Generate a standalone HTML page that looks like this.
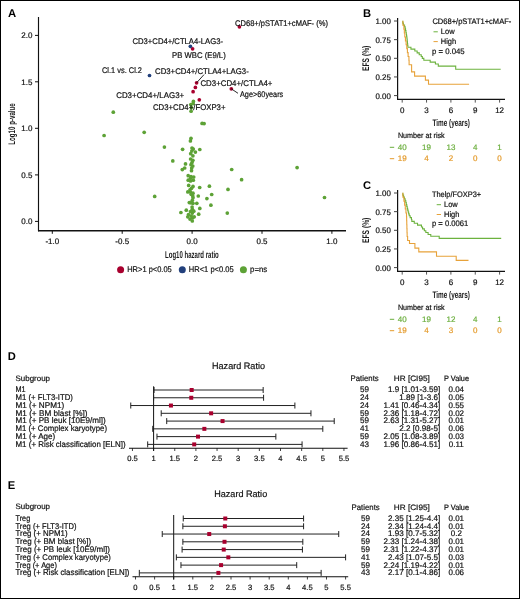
<!DOCTYPE html>
<html><head><meta charset="utf-8"><style>
html,body{margin:0;padding:0;background:#fff;}
svg{display:block;font-family:"Liberation Sans", sans-serif;will-change:transform;}
</style></head><body>
<svg width="520" height="599" viewBox="0 0 520 599" text-rendering="geometricPrecision">
<rect x="0" y="0" width="520" height="599" fill="#fff"/>
<text x="8.0" y="16.7" font-size="11.3" text-anchor="start" fill="#000" font-weight="bold" transform="matrix(1 0 0.0018 1 -0.0301 0)">A</text>
<line x1="38.5" y1="17" x2="38.5" y2="231.3" stroke="#111" stroke-width="1.15"/>
<line x1="38" y1="230.8" x2="346" y2="230.8" stroke="#111" stroke-width="1.5"/>
<line x1="35" y1="35.4" x2="38.5" y2="35.4" stroke="#111" stroke-width="1"/>
<text x="32.4" y="38.2" font-size="8.0" text-anchor="end" fill="#111" transform="matrix(1 0 0.0018 1 -0.0688 0)" stroke="#111" stroke-width="0.2">2.0</text>
<line x1="35" y1="81.8" x2="38.5" y2="81.8" stroke="#111" stroke-width="1"/>
<text x="32.4" y="84.6" font-size="8.0" text-anchor="end" fill="#111" transform="matrix(1 0 0.0018 1 -0.1523 0)" stroke="#111" stroke-width="0.2">1.5</text>
<line x1="35" y1="128.3" x2="38.5" y2="128.3" stroke="#111" stroke-width="1"/>
<text x="32.4" y="131.1" font-size="8.0" text-anchor="end" fill="#111" transform="matrix(1 0 0.0018 1 -0.2360 0)" stroke="#111" stroke-width="0.2">1.0</text>
<line x1="35" y1="174.9" x2="38.5" y2="174.9" stroke="#111" stroke-width="1"/>
<text x="32.4" y="177.7" font-size="8.0" text-anchor="end" fill="#111" transform="matrix(1 0 0.0018 1 -0.3199 0)" stroke="#111" stroke-width="0.2">0.5</text>
<line x1="35" y1="221.4" x2="38.5" y2="221.4" stroke="#111" stroke-width="1"/>
<text x="32.4" y="224.2" font-size="8.0" text-anchor="end" fill="#111" transform="matrix(1 0 0.0018 1 -0.4036 0)" stroke="#111" stroke-width="0.2">0.0</text>
<line x1="52.3" y1="230.8" x2="52.3" y2="233.8" stroke="#111" stroke-width="1"/>
<text x="52.3" y="244.1" font-size="8.0" text-anchor="middle" fill="#111" transform="matrix(1 0 0.0018 1 -0.4394 0)" stroke="#111" stroke-width="0.2">-1.0</text>
<line x1="122.2" y1="230.8" x2="122.2" y2="233.8" stroke="#111" stroke-width="1"/>
<text x="122.2" y="244.1" font-size="8.0" text-anchor="middle" fill="#111" transform="matrix(1 0 0.0018 1 -0.4394 0)" stroke="#111" stroke-width="0.2">-0.5</text>
<line x1="192.1" y1="230.8" x2="192.1" y2="233.8" stroke="#111" stroke-width="1"/>
<text x="192.1" y="244.1" font-size="8.0" text-anchor="middle" fill="#111" transform="matrix(1 0 0.0018 1 -0.4394 0)" stroke="#111" stroke-width="0.2">0.0</text>
<line x1="262.0" y1="230.8" x2="262.0" y2="233.8" stroke="#111" stroke-width="1"/>
<text x="262.0" y="244.1" font-size="8.0" text-anchor="middle" fill="#111" transform="matrix(1 0 0.0018 1 -0.4394 0)" stroke="#111" stroke-width="0.2">0.5</text>
<line x1="331.9" y1="230.8" x2="331.9" y2="233.8" stroke="#111" stroke-width="1"/>
<text x="331.9" y="244.1" font-size="8.0" text-anchor="middle" fill="#111" transform="matrix(1 0 0.0018 1 -0.4394 0)" stroke="#111" stroke-width="0.2">1.0</text>
<text x="191.9" y="257.5" font-size="10.0" text-anchor="middle" fill="#1a1a1a" font-weight="bold" textLength="53.75" lengthAdjust="spacingAndGlyphs" transform="matrix(1 0 0.0018 1 -0.4635 0)">Log10 hazard ratio</text>
<g transform="translate(14.8,124) rotate(-90)">
<text x="0" y="0" font-size="9.6" text-anchor="middle" fill="#1a1a1a" font-weight="bold" textLength="41.4" lengthAdjust="spacingAndGlyphs" transform="matrix(1 0 0.0018 1 -0.0000 0)">Log10 p-value</text>
</g>
<circle cx="113.3" cy="112.2" r="1.85" fill="#5da236"/>
<circle cx="104.1" cy="135.5" r="1.85" fill="#5da236"/>
<circle cx="144.2" cy="132.3" r="1.85" fill="#5da236"/>
<circle cx="164.4" cy="147.1" r="1.85" fill="#5da236"/>
<circle cx="172.8" cy="160.9" r="1.85" fill="#5da236"/>
<circle cx="182.6" cy="149.3" r="1.85" fill="#5da236"/>
<circle cx="154.7" cy="196.4" r="1.85" fill="#5da236"/>
<circle cx="180.9" cy="212.5" r="1.85" fill="#5da236"/>
<circle cx="186.3" cy="210.2" r="1.85" fill="#5da236"/>
<circle cx="185.5" cy="163.9" r="1.85" fill="#5da236"/>
<circle cx="184.7" cy="168" r="1.85" fill="#5da236"/>
<circle cx="182.3" cy="169.6" r="1.85" fill="#5da236"/>
<circle cx="202.1" cy="123.4" r="1.85" fill="#5da236"/>
<circle cx="204.1" cy="123.6" r="1.85" fill="#5da236"/>
<circle cx="199.8" cy="149.5" r="1.85" fill="#5da236"/>
<circle cx="195.4" cy="152.1" r="1.85" fill="#5da236"/>
<circle cx="199.7" cy="187.5" r="1.85" fill="#5da236"/>
<circle cx="209.4" cy="186.2" r="1.85" fill="#5da236"/>
<circle cx="228" cy="189.4" r="1.85" fill="#5da236"/>
<circle cx="231.7" cy="169.5" r="1.85" fill="#5da236"/>
<circle cx="297.1" cy="167.6" r="1.85" fill="#5da236"/>
<circle cx="241.6" cy="179.7" r="1.85" fill="#5da236"/>
<circle cx="211.7" cy="194.5" r="1.85" fill="#5da236"/>
<circle cx="206.9" cy="198.6" r="1.85" fill="#5da236"/>
<circle cx="198.3" cy="196" r="1.85" fill="#5da236"/>
<circle cx="196.8" cy="203.3" r="1.85" fill="#5da236"/>
<circle cx="210.9" cy="205.2" r="1.85" fill="#5da236"/>
<circle cx="199.8" cy="208.4" r="1.85" fill="#5da236"/>
<circle cx="198.7" cy="214.2" r="1.85" fill="#5da236"/>
<circle cx="227.3" cy="213.1" r="1.85" fill="#5da236"/>
<circle cx="324.5" cy="197.5" r="1.85" fill="#5da236"/>
<circle cx="193.4" cy="101.4" r="1.85" fill="#5da236"/>
<circle cx="193.1" cy="103.6" r="1.85" fill="#5da236"/>
<circle cx="190.8" cy="104.5" r="1.85" fill="#5da236"/>
<circle cx="191.4" cy="107.6" r="1.85" fill="#5da236"/>
<circle cx="191.1" cy="111.2" r="1.85" fill="#5da236"/>
<circle cx="191" cy="138.3" r="1.85" fill="#5da236"/>
<circle cx="190.4" cy="140.9" r="1.85" fill="#5da236"/>
<circle cx="192" cy="148" r="1.85" fill="#5da236"/>
<circle cx="193.3" cy="149.1" r="1.85" fill="#5da236"/>
<circle cx="190.7" cy="153.7" r="1.85" fill="#5da236"/>
<circle cx="192.9" cy="155.8" r="1.85" fill="#5da236"/>
<circle cx="190.6" cy="159" r="1.85" fill="#5da236"/>
<circle cx="192.9" cy="160.3" r="1.85" fill="#5da236"/>
<circle cx="191" cy="164.7" r="1.85" fill="#5da236"/>
<circle cx="192.8" cy="166" r="1.85" fill="#5da236"/>
<circle cx="191.7" cy="168" r="1.85" fill="#5da236"/>
<circle cx="191.5" cy="170.7" r="1.85" fill="#5da236"/>
<circle cx="188.2" cy="175.7" r="1.85" fill="#5da236"/>
<circle cx="193.7" cy="177" r="1.85" fill="#5da236"/>
<circle cx="190.6" cy="178.2" r="1.85" fill="#5da236"/>
<circle cx="188.2" cy="180.2" r="1.85" fill="#5da236"/>
<circle cx="193.3" cy="180.2" r="1.85" fill="#5da236"/>
<circle cx="188.7" cy="185.4" r="1.85" fill="#5da236"/>
<circle cx="193" cy="186.4" r="1.85" fill="#5da236"/>
<circle cx="191.5" cy="188.3" r="1.85" fill="#5da236"/>
<circle cx="190" cy="189.8" r="1.85" fill="#5da236"/>
<circle cx="187.8" cy="191.9" r="1.85" fill="#5da236"/>
<circle cx="190.4" cy="192" r="1.85" fill="#5da236"/>
<circle cx="193" cy="193.2" r="1.85" fill="#5da236"/>
<circle cx="191.2" cy="194.3" r="1.85" fill="#5da236"/>
<circle cx="192.7" cy="195.8" r="1.85" fill="#5da236"/>
<circle cx="193" cy="197.7" r="1.85" fill="#5da236"/>
<circle cx="192.3" cy="200.3" r="1.85" fill="#5da236"/>
<circle cx="189.3" cy="202.6" r="1.85" fill="#5da236"/>
<circle cx="193" cy="203.3" r="1.85" fill="#5da236"/>
<circle cx="192.1" cy="207.1" r="1.85" fill="#5da236"/>
<circle cx="192.3" cy="209.3" r="1.85" fill="#5da236"/>
<circle cx="193.8" cy="211.2" r="1.85" fill="#5da236"/>
<circle cx="192.3" cy="213.1" r="1.85" fill="#5da236"/>
<circle cx="191.8" cy="151" r="1.85" fill="#5da236"/>
<circle cx="192" cy="162.5" r="1.85" fill="#5da236"/>
<circle cx="191" cy="202.8" r="1.85" fill="#5da236"/>
<circle cx="190.5" cy="211.5" r="1.85" fill="#5da236"/>
<circle cx="192.5" cy="218" r="1.85" fill="#5da236"/>
<circle cx="191" cy="176.5" r="1.85" fill="#5da236"/>
<circle cx="190.5" cy="181" r="1.85" fill="#5da236"/>
<circle cx="188.5" cy="214.6" r="1.85" fill="#5da236"/>
<circle cx="187.8" cy="216.8" r="1.85" fill="#5da236"/>
<circle cx="191.2" cy="216.1" r="1.85" fill="#5da236"/>
<circle cx="194.2" cy="216.8" r="1.85" fill="#5da236"/>
<circle cx="190" cy="219.1" r="1.85" fill="#5da236"/>
<circle cx="192.3" cy="221" r="1.85" fill="#5da236"/>
<circle cx="239.4" cy="26.8" r="1.85" fill="#a8002e"/>
<circle cx="192.6" cy="48.8" r="1.85" fill="#a8002e"/>
<circle cx="196.6" cy="82.8" r="1.85" fill="#a8002e"/>
<circle cx="195.4" cy="87.4" r="1.85" fill="#a8002e"/>
<circle cx="193.1" cy="91.7" r="1.85" fill="#a8002e"/>
<circle cx="199.3" cy="99.8" r="1.85" fill="#a8002e"/>
<circle cx="231.3" cy="88.8" r="1.85" fill="#a8002e"/>
<circle cx="190.4" cy="46.3" r="1.85" fill="#22407c"/>
<circle cx="149.5" cy="75.5" r="1.85" fill="#22407c"/>
<text x="235" y="25.5" font-size="8.2" text-anchor="start" fill="#111" textLength="93" lengthAdjust="spacingAndGlyphs" transform="matrix(1 0 0.0018 1 -0.0459 0)" stroke="#111" stroke-width="0.2">CD68+/pSTAT1+cMAF- (%)</text>
<text x="132.5" y="44.0" font-size="8.2" text-anchor="start" fill="#111" textLength="90.5" lengthAdjust="spacingAndGlyphs" transform="matrix(1 0 0.0018 1 -0.0792 0)" stroke="#111" stroke-width="0.2">CD3+CD4+/CTLA4-LAG3-</text>
<text x="172" y="58.0" font-size="8.2" text-anchor="start" fill="#111" textLength="53.75" lengthAdjust="spacingAndGlyphs" transform="matrix(1 0 0.0018 1 -0.1044 0)" stroke="#111" stroke-width="0.2">PB WBC (E9/L)</text>
<text x="102" y="72.6" font-size="8.2" text-anchor="start" fill="#111" textLength="40" lengthAdjust="spacingAndGlyphs" transform="matrix(1 0 0.0018 1 -0.1307 0)" stroke="#111" stroke-width="0.2">Cl.1 vs. Cl.2</text>
<text x="155" y="73.5" font-size="8.2" text-anchor="start" fill="#111" textLength="93.75" lengthAdjust="spacingAndGlyphs" transform="matrix(1 0 0.0018 1 -0.1323 0)" stroke="#111" stroke-width="0.2">CD3+CD4+/CTLA4+LAG3-</text>
<text x="200.4" y="85.8" font-size="8.2" text-anchor="start" fill="#111" textLength="72" lengthAdjust="spacingAndGlyphs" transform="matrix(1 0 0.0018 1 -0.1544 0)" stroke="#111" stroke-width="0.2">CD3+CD4+/CTLA4+</text>
<text x="240" y="97.0" font-size="8.2" text-anchor="start" fill="#111" textLength="43.25" lengthAdjust="spacingAndGlyphs" transform="matrix(1 0 0.0018 1 -0.1746 0)" stroke="#111" stroke-width="0.2">Age&gt;60years</text>
<text x="116.2" y="97.5" font-size="8.2" text-anchor="start" fill="#111" textLength="68" lengthAdjust="spacingAndGlyphs" transform="matrix(1 0 0.0018 1 -0.1755 0)" stroke="#111" stroke-width="0.2">CD3+CD4+/LAG3+</text>
<text x="153" y="109.9" font-size="8.2" text-anchor="start" fill="#111" textLength="72.5" lengthAdjust="spacingAndGlyphs" transform="matrix(1 0 0.0018 1 -0.1978 0)" stroke="#111" stroke-width="0.2">CD3+CD4+/FOXP3+</text>
<line x1="196.6" y1="82.8" x2="204" y2="74.6" stroke="#111" stroke-width="0.9"/>
<line x1="231.3" y1="88.8" x2="238" y2="93.3" stroke="#111" stroke-width="0.9"/>
<circle cx="120.6" cy="269.7" r="3.5" fill="#a8002e"/>
<text x="127.2" y="272.4" font-size="8.2" text-anchor="start" fill="#111" textLength="44.6" lengthAdjust="spacingAndGlyphs" transform="matrix(1 0 0.0018 1 -0.4903 0)" stroke="#111" stroke-width="0.2">HR&gt;1 p&lt;0.05</text>
<circle cx="182.3" cy="269.7" r="3.5" fill="#22407c"/>
<text x="188.8" y="272.4" font-size="8.2" text-anchor="start" fill="#111" textLength="44.9" lengthAdjust="spacingAndGlyphs" transform="matrix(1 0 0.0018 1 -0.4903 0)" stroke="#111" stroke-width="0.2">HR&lt;1 p&lt;0.05</text>
<circle cx="243.4" cy="269.7" r="3.5" fill="#5da236"/>
<text x="250" y="272.4" font-size="8.2" text-anchor="start" fill="#111" textLength="17.3" lengthAdjust="spacingAndGlyphs" transform="matrix(1 0 0.0018 1 -0.4903 0)" stroke="#111" stroke-width="0.2">p=ns</text>
<text x="363.0" y="17.2" font-size="11.2" text-anchor="start" fill="#000" font-weight="bold" transform="matrix(1 0 0.0018 1 -0.0310 0)">B</text>
<line x1="397.6" y1="18.1" x2="397.6" y2="99.8" stroke="#111" stroke-width="1.2"/>
<line x1="397.0" y1="99.3" x2="505" y2="99.3" stroke="#111" stroke-width="1.2"/>
<line x1="394.0" y1="21.0" x2="397.6" y2="21.0" stroke="#444" stroke-width="1.0"/>
<text x="390.8" y="23.9" font-size="8.0" text-anchor="end" fill="#111" textLength="15.4" lengthAdjust="spacingAndGlyphs" transform="matrix(1 0 0.0018 1 -0.0430 0)" stroke="#111" stroke-width="0.2">1.00</text>
<line x1="394.0" y1="39.65" x2="397.6" y2="39.65" stroke="#444" stroke-width="1.0"/>
<text x="390.8" y="42.55" font-size="8.0" text-anchor="end" fill="#111" textLength="15.4" lengthAdjust="spacingAndGlyphs" transform="matrix(1 0 0.0018 1 -0.0766 0)" stroke="#111" stroke-width="0.2">0.75</text>
<line x1="394.0" y1="58.3" x2="397.6" y2="58.3" stroke="#444" stroke-width="1.0"/>
<text x="390.8" y="61.2" font-size="8.0" text-anchor="end" fill="#111" textLength="15.4" lengthAdjust="spacingAndGlyphs" transform="matrix(1 0 0.0018 1 -0.1102 0)" stroke="#111" stroke-width="0.2">0.50</text>
<line x1="394.0" y1="76.94999999999999" x2="397.6" y2="76.94999999999999" stroke="#444" stroke-width="1.0"/>
<text x="390.8" y="79.85" font-size="8.0" text-anchor="end" fill="#111" textLength="15.4" lengthAdjust="spacingAndGlyphs" transform="matrix(1 0 0.0018 1 -0.1437 0)" stroke="#111" stroke-width="0.2">0.25</text>
<line x1="394.0" y1="95.6" x2="397.6" y2="95.6" stroke="#444" stroke-width="1.0"/>
<text x="390.8" y="98.5" font-size="8.0" text-anchor="end" fill="#111" textLength="15.4" lengthAdjust="spacingAndGlyphs" transform="matrix(1 0 0.0018 1 -0.1773 0)" stroke="#111" stroke-width="0.2">0.00</text>
<line x1="402.2" y1="99.9" x2="402.2" y2="102.6" stroke="#555" stroke-width="1.0"/>
<text x="402.2" y="112.5" font-size="8.0" text-anchor="middle" fill="#111" transform="matrix(1 0 0.0018 1 -0.2025 0)" stroke="#111" stroke-width="0.2">0</text>
<line x1="426.55" y1="99.9" x2="426.55" y2="102.6" stroke="#555" stroke-width="1.0"/>
<text x="426.55" y="112.5" font-size="8.0" text-anchor="middle" fill="#111" transform="matrix(1 0 0.0018 1 -0.2025 0)" stroke="#111" stroke-width="0.2">3</text>
<line x1="450.9" y1="99.9" x2="450.9" y2="102.6" stroke="#555" stroke-width="1.0"/>
<text x="450.9" y="112.5" font-size="8.0" text-anchor="middle" fill="#111" transform="matrix(1 0 0.0018 1 -0.2025 0)" stroke="#111" stroke-width="0.2">6</text>
<line x1="475.25" y1="99.9" x2="475.25" y2="102.6" stroke="#555" stroke-width="1.0"/>
<text x="475.25" y="112.5" font-size="8.0" text-anchor="middle" fill="#111" transform="matrix(1 0 0.0018 1 -0.2025 0)" stroke="#111" stroke-width="0.2">9</text>
<line x1="499.6" y1="99.9" x2="499.6" y2="102.6" stroke="#555" stroke-width="1.0"/>
<text x="499.6" y="112.5" font-size="8.0" text-anchor="middle" fill="#111" transform="matrix(1 0 0.0018 1 -0.2025 0)" stroke="#111" stroke-width="0.2">12</text>
<text x="451.2" y="125.7" font-size="9.6" text-anchor="middle" fill="#1a1a1a" font-weight="bold" textLength="37.6" lengthAdjust="spacingAndGlyphs" transform="matrix(1 0 0.0018 1 -0.2263 0)">Time (years)</text>
<g transform="translate(369.3,58.3) rotate(-90)">
<text x="0" y="0" font-size="9.6" text-anchor="middle" fill="#1a1a1a" font-weight="bold" textLength="25.3" lengthAdjust="spacingAndGlyphs" transform="matrix(1 0 0.0018 1 -0.0000 0)">EFS (%)</text>
</g>
<path d="M402.40,21.30 H402.71 V23.16 H403.43 V25.01 H404.56 V26.87 H405.17 V28.72 H405.55 V30.58 H405.94 V32.43 H406.26 V34.28 H406.55 V36.14 H406.84 V37.99 H407.08 V39.85 H407.26 V41.70 H407.45 V43.56 H407.63 V45.41 H407.88 V47.27 H410.94 V49.12 H414.83 V50.98 H417.14 V52.83 H419.22 V54.69 H421.23 V56.54 H422.31 V58.40 H423.83 V60.25 H430.18 V62.11 H435.41 V63.96 H438.3 V66.1 H455.7 V69.3 H500.7" fill="none" stroke="#6cb23e" stroke-width="1.1"/>
<path d="M402.40,21.30 H402.93 V25.21 H403.88 V29.12 H404.34 V33.03 H404.80 V36.94 H405.44 V40.85 H406.11 V44.76 H406.78 V48.67 H407.41 V52.58 H408.10 V56.49 H408.93 V60.40 H409.1 V64.7 H411.6 V71.9 H414.6 V76.1 H425.4 V80.1 H428.5 V84.2 H469.1" fill="none" stroke="#e7a23a" stroke-width="1.1"/>
<text x="432.4" y="23.8" font-size="8.0" text-anchor="start" fill="#111" textLength="78.9" lengthAdjust="spacingAndGlyphs" transform="matrix(1 0 0.0018 1 -0.0428 0)" stroke="#111" stroke-width="0.2">CD68+/pSTAT1+cMAF-</text>
<line x1="433.5" y1="31.8" x2="437.8" y2="31.8" stroke="#6cb23e" stroke-width="1.0"/>
<text x="440.8" y="33.9" font-size="8.0" text-anchor="start" fill="#111" textLength="13.8" lengthAdjust="spacingAndGlyphs" transform="matrix(1 0 0.0018 1 -0.0610 0)" stroke="#111" stroke-width="0.2">Low</text>
<line x1="433.5" y1="41.6" x2="437.8" y2="41.6" stroke="#e7a23a" stroke-width="1.0"/>
<text x="440.8" y="44.0" font-size="8.0" text-anchor="start" fill="#111" textLength="15.4" lengthAdjust="spacingAndGlyphs" transform="matrix(1 0 0.0018 1 -0.0792 0)" stroke="#111" stroke-width="0.2">High</text>
<text x="431.9" y="53.5" font-size="8.0" text-anchor="start" fill="#111" textLength="32.8" lengthAdjust="spacingAndGlyphs" transform="matrix(1 0 0.0018 1 -0.0963 0)" stroke="#111" stroke-width="0.2">p = 0.045</text>
<text x="397.9" y="137.9" font-size="7.7" text-anchor="start" fill="#111" textLength="46.8" lengthAdjust="spacingAndGlyphs" transform="matrix(1 0 0.0018 1 -0.2482 0)" stroke="#111" stroke-width="0.2">Number at risk</text>
<line x1="389.8" y1="147.3" x2="394.2" y2="147.3" stroke="#6aae3c" stroke-width="1.0"/>
<line x1="389.8" y1="158.7" x2="394.2" y2="158.7" stroke="#e49a2a" stroke-width="1.0"/>
<text x="402.2" y="149.9" font-size="8.0" text-anchor="middle" fill="#6aae3c" transform="matrix(1 0 0.0018 1 -0.2698 0)" stroke="#6aae3c" stroke-width="0.2">40</text>
<text x="402.2" y="161.2" font-size="8.0" text-anchor="middle" fill="#e49a2a" transform="matrix(1 0 0.0018 1 -0.2902 0)" stroke="#e49a2a" stroke-width="0.2">19</text>
<text x="426.55" y="149.9" font-size="8.0" text-anchor="middle" fill="#6aae3c" transform="matrix(1 0 0.0018 1 -0.2698 0)" stroke="#6aae3c" stroke-width="0.2">19</text>
<text x="426.55" y="161.2" font-size="8.0" text-anchor="middle" fill="#e49a2a" transform="matrix(1 0 0.0018 1 -0.2902 0)" stroke="#e49a2a" stroke-width="0.2">4</text>
<text x="450.9" y="149.9" font-size="8.0" text-anchor="middle" fill="#6aae3c" transform="matrix(1 0 0.0018 1 -0.2698 0)" stroke="#6aae3c" stroke-width="0.2">13</text>
<text x="450.9" y="161.2" font-size="8.0" text-anchor="middle" fill="#e49a2a" transform="matrix(1 0 0.0018 1 -0.2902 0)" stroke="#e49a2a" stroke-width="0.2">2</text>
<text x="475.25" y="149.9" font-size="8.0" text-anchor="middle" fill="#6aae3c" transform="matrix(1 0 0.0018 1 -0.2698 0)" stroke="#6aae3c" stroke-width="0.2">4</text>
<text x="475.25" y="161.2" font-size="8.0" text-anchor="middle" fill="#e49a2a" transform="matrix(1 0 0.0018 1 -0.2902 0)" stroke="#e49a2a" stroke-width="0.2">0</text>
<text x="499.6" y="149.9" font-size="8.0" text-anchor="middle" fill="#6aae3c" transform="matrix(1 0 0.0018 1 -0.2698 0)" stroke="#6aae3c" stroke-width="0.2">1</text>
<text x="499.6" y="161.2" font-size="8.0" text-anchor="middle" fill="#e49a2a" transform="matrix(1 0 0.0018 1 -0.2902 0)" stroke="#e49a2a" stroke-width="0.2">0</text>
<text x="363.0" y="189.2" font-size="11.2" text-anchor="start" fill="#000" font-weight="bold" transform="matrix(1 0 0.0018 1 -0.3406 0)">C</text>
<line x1="397.6" y1="190.1" x2="397.6" y2="271.8" stroke="#111" stroke-width="1.2"/>
<line x1="397.0" y1="271.3" x2="505" y2="271.3" stroke="#111" stroke-width="1.2"/>
<line x1="394.0" y1="193.0" x2="397.6" y2="193.0" stroke="#444" stroke-width="1.0"/>
<text x="390.8" y="195.9" font-size="8.0" text-anchor="end" fill="#111" textLength="15.4" lengthAdjust="spacingAndGlyphs" transform="matrix(1 0 0.0018 1 -0.3526 0)" stroke="#111" stroke-width="0.2">1.00</text>
<line x1="394.0" y1="211.65" x2="397.6" y2="211.65" stroke="#444" stroke-width="1.0"/>
<text x="390.8" y="214.55" font-size="8.0" text-anchor="end" fill="#111" textLength="15.4" lengthAdjust="spacingAndGlyphs" transform="matrix(1 0 0.0018 1 -0.3862 0)" stroke="#111" stroke-width="0.2">0.75</text>
<line x1="394.0" y1="230.3" x2="397.6" y2="230.3" stroke="#444" stroke-width="1.0"/>
<text x="390.8" y="233.2" font-size="8.0" text-anchor="end" fill="#111" textLength="15.4" lengthAdjust="spacingAndGlyphs" transform="matrix(1 0 0.0018 1 -0.4198 0)" stroke="#111" stroke-width="0.2">0.50</text>
<line x1="394.0" y1="248.95" x2="397.6" y2="248.95" stroke="#444" stroke-width="1.0"/>
<text x="390.8" y="251.85" font-size="8.0" text-anchor="end" fill="#111" textLength="15.4" lengthAdjust="spacingAndGlyphs" transform="matrix(1 0 0.0018 1 -0.4533 0)" stroke="#111" stroke-width="0.2">0.25</text>
<line x1="394.0" y1="267.6" x2="397.6" y2="267.6" stroke="#444" stroke-width="1.0"/>
<text x="390.8" y="270.5" font-size="8.0" text-anchor="end" fill="#111" textLength="15.4" lengthAdjust="spacingAndGlyphs" transform="matrix(1 0 0.0018 1 -0.4869 0)" stroke="#111" stroke-width="0.2">0.00</text>
<line x1="402.2" y1="271.9" x2="402.2" y2="274.6" stroke="#555" stroke-width="1.0"/>
<text x="402.2" y="284.5" font-size="8.0" text-anchor="middle" fill="#111" transform="matrix(1 0 0.0018 1 -0.5121 0)" stroke="#111" stroke-width="0.2">0</text>
<line x1="426.55" y1="271.9" x2="426.55" y2="274.6" stroke="#555" stroke-width="1.0"/>
<text x="426.55" y="284.5" font-size="8.0" text-anchor="middle" fill="#111" transform="matrix(1 0 0.0018 1 -0.5121 0)" stroke="#111" stroke-width="0.2">3</text>
<line x1="450.9" y1="271.9" x2="450.9" y2="274.6" stroke="#555" stroke-width="1.0"/>
<text x="450.9" y="284.5" font-size="8.0" text-anchor="middle" fill="#111" transform="matrix(1 0 0.0018 1 -0.5121 0)" stroke="#111" stroke-width="0.2">6</text>
<line x1="475.25" y1="271.9" x2="475.25" y2="274.6" stroke="#555" stroke-width="1.0"/>
<text x="475.25" y="284.5" font-size="8.0" text-anchor="middle" fill="#111" transform="matrix(1 0 0.0018 1 -0.5121 0)" stroke="#111" stroke-width="0.2">9</text>
<line x1="499.6" y1="271.9" x2="499.6" y2="274.6" stroke="#555" stroke-width="1.0"/>
<text x="499.6" y="284.5" font-size="8.0" text-anchor="middle" fill="#111" transform="matrix(1 0 0.0018 1 -0.5121 0)" stroke="#111" stroke-width="0.2">12</text>
<text x="451.2" y="297.7" font-size="9.6" text-anchor="middle" fill="#1a1a1a" font-weight="bold" textLength="37.6" lengthAdjust="spacingAndGlyphs" transform="matrix(1 0 0.0018 1 -0.5359 0)">Time (years)</text>
<g transform="translate(369.3,230.3) rotate(-90)">
<text x="0" y="0" font-size="9.6" text-anchor="middle" fill="#1a1a1a" font-weight="bold" textLength="25.3" lengthAdjust="spacingAndGlyphs" transform="matrix(1 0 0.0018 1 -0.0000 0)">EFS (%)</text>
</g>
<path d="M402.40,193.30 H402.79 V195.17 H403.57 V197.04 H404.35 V198.91 H405.13 V200.78 H405.83 V202.65 H406.28 V204.52 H406.74 V206.39 H407.20 V208.26 H407.66 V210.13 H408.12 V212.00 H408.66 V213.87 H409.21 V215.74 H410.16 V217.61 H411.45 V219.48 H411.81 V221.35 H414.26 V223.22 H417.53 V225.09 H421.45 V226.96 H422.57 V228.83 H424.33 V230.70 H425.82 V232.57 H428.10 V234.44 H430.77 V236.31 H439.2 V238.4 H501.2" fill="none" stroke="#6cb23e" stroke-width="1.1"/>
<path d="M402.40,193.30 H402.91 V197.23 H403.92 V201.16 H404.62 V205.09 H405.28 V209.02 H405.95 V212.95 H406.52 V216.88 H406.65 V220.81 H406.77 V224.74 H406.89 V228.67 H407.02 V232.60 H407.14 V236.53 H407.61 V240.46 H409.5 V243.5 H414.9 V248.1 H418.8 V251.9 H436.5 V256.2 H456.2 V260.4 H468.5" fill="none" stroke="#e7a23a" stroke-width="1.1"/>
<text x="431.9" y="196.7" font-size="8.0" text-anchor="start" fill="#111" textLength="49.3" lengthAdjust="spacingAndGlyphs" transform="matrix(1 0 0.0018 1 -0.3541 0)" stroke="#111" stroke-width="0.2">Thelp/FOXP3+</text>
<line x1="436.7" y1="204.70000000000002" x2="441.0" y2="204.70000000000002" stroke="#6cb23e" stroke-width="1.0"/>
<text x="444.0" y="206.8" font-size="8.0" text-anchor="start" fill="#111" textLength="13.8" lengthAdjust="spacingAndGlyphs" transform="matrix(1 0 0.0018 1 -0.3722 0)" stroke="#111" stroke-width="0.2">Low</text>
<line x1="436.7" y1="214.5" x2="441.0" y2="214.5" stroke="#e7a23a" stroke-width="1.0"/>
<text x="444.0" y="216.9" font-size="8.0" text-anchor="start" fill="#111" textLength="15.4" lengthAdjust="spacingAndGlyphs" transform="matrix(1 0 0.0018 1 -0.3904 0)" stroke="#111" stroke-width="0.2">High</text>
<text x="431.9" y="226.4" font-size="8.0" text-anchor="start" fill="#111" textLength="36.5" lengthAdjust="spacingAndGlyphs" transform="matrix(1 0 0.0018 1 -0.4075 0)" stroke="#111" stroke-width="0.2">p = 0.0061</text>
<text x="397.9" y="309.9" font-size="7.7" text-anchor="start" fill="#111" textLength="46.8" lengthAdjust="spacingAndGlyphs" transform="matrix(1 0 0.0018 1 -0.5578 0)" stroke="#111" stroke-width="0.2">Number at risk</text>
<line x1="389.8" y1="319.3" x2="394.2" y2="319.3" stroke="#6aae3c" stroke-width="1.0"/>
<line x1="389.8" y1="330.7" x2="394.2" y2="330.7" stroke="#e49a2a" stroke-width="1.0"/>
<text x="402.2" y="321.9" font-size="8.0" text-anchor="middle" fill="#6aae3c" transform="matrix(1 0 0.0018 1 -0.5794 0)" stroke="#6aae3c" stroke-width="0.2">40</text>
<text x="402.2" y="333.2" font-size="8.0" text-anchor="middle" fill="#e49a2a" transform="matrix(1 0 0.0018 1 -0.5998 0)" stroke="#e49a2a" stroke-width="0.2">19</text>
<text x="426.55" y="321.9" font-size="8.0" text-anchor="middle" fill="#6aae3c" transform="matrix(1 0 0.0018 1 -0.5794 0)" stroke="#6aae3c" stroke-width="0.2">19</text>
<text x="426.55" y="333.2" font-size="8.0" text-anchor="middle" fill="#e49a2a" transform="matrix(1 0 0.0018 1 -0.5998 0)" stroke="#e49a2a" stroke-width="0.2">4</text>
<text x="450.9" y="321.9" font-size="8.0" text-anchor="middle" fill="#6aae3c" transform="matrix(1 0 0.0018 1 -0.5794 0)" stroke="#6aae3c" stroke-width="0.2">12</text>
<text x="450.9" y="333.2" font-size="8.0" text-anchor="middle" fill="#e49a2a" transform="matrix(1 0 0.0018 1 -0.5998 0)" stroke="#e49a2a" stroke-width="0.2">3</text>
<text x="475.25" y="321.9" font-size="8.0" text-anchor="middle" fill="#6aae3c" transform="matrix(1 0 0.0018 1 -0.5794 0)" stroke="#6aae3c" stroke-width="0.2">4</text>
<text x="475.25" y="333.2" font-size="8.0" text-anchor="middle" fill="#e49a2a" transform="matrix(1 0 0.0018 1 -0.5998 0)" stroke="#e49a2a" stroke-width="0.2">0</text>
<text x="499.6" y="321.9" font-size="8.0" text-anchor="middle" fill="#6aae3c" transform="matrix(1 0 0.0018 1 -0.5794 0)" stroke="#6aae3c" stroke-width="0.2">1</text>
<text x="499.6" y="333.2" font-size="8.0" text-anchor="middle" fill="#e49a2a" transform="matrix(1 0 0.0018 1 -0.5998 0)" stroke="#e49a2a" stroke-width="0.2">0</text>
<text x="7.8" y="360.3" font-size="11.2" text-anchor="start" fill="#000" font-weight="bold" transform="matrix(1 0 0.0018 1 -0.6485 0)">D</text>
<text x="15.5" y="380.6" font-size="7.9" text-anchor="start" fill="#111" textLength="34.5" lengthAdjust="spacingAndGlyphs" transform="matrix(1 0 0.0018 1 -0.6851 0)" stroke="#111" stroke-width="0.2">Subgroup</text>
<text x="238.5" y="368.6" font-size="9.3" text-anchor="middle" fill="#111" textLength="53" lengthAdjust="spacingAndGlyphs" transform="matrix(1 0 0.0018 1 -0.6635 0)" stroke="#111" stroke-width="0.2">Hazard Ratio</text>
<text x="364.6" y="381.0" font-size="8.1" text-anchor="middle" fill="#111" textLength="28.2" lengthAdjust="spacingAndGlyphs" transform="matrix(1 0 0.0018 1 -0.6858 0)" stroke="#111" stroke-width="0.2">Patients</text>
<text x="411.8" y="381.2" font-size="7.8" text-anchor="middle" fill="#111" textLength="36.0" lengthAdjust="spacingAndGlyphs" transform="matrix(1 0 0.0018 1 -0.6862 0)" stroke="#111" stroke-width="0.2">HR [CI95]</text>
<text x="456.5" y="381.2" font-size="7.8" text-anchor="middle" fill="#111" textLength="25.0" lengthAdjust="spacingAndGlyphs" transform="matrix(1 0 0.0018 1 -0.6862 0)" stroke="#111" stroke-width="0.2">P Value</text>
<line x1="153.6" y1="386.3" x2="153.6" y2="451.0" stroke="#111" stroke-width="1"/>
<line x1="129.0" y1="448.2" x2="347.6" y2="448.2" stroke="#111" stroke-width="1.1"/>
<line x1="132.45" y1="448.2" x2="132.45" y2="451.0" stroke="#111" stroke-width="0.8"/>
<text x="132.45" y="461.2" font-size="7.6" text-anchor="middle" fill="#111" transform="matrix(1 0 0.0018 1 -0.8302 0)" stroke="#111" stroke-width="0.2">0.5</text>
<line x1="153.6" y1="448.2" x2="153.6" y2="451.0" stroke="#111" stroke-width="0.8"/>
<text x="153.6" y="461.2" font-size="7.6" text-anchor="middle" fill="#111" transform="matrix(1 0 0.0018 1 -0.8302 0)" stroke="#111" stroke-width="0.2">1</text>
<line x1="174.75" y1="448.2" x2="174.75" y2="451.0" stroke="#111" stroke-width="0.8"/>
<text x="174.75" y="461.2" font-size="7.6" text-anchor="middle" fill="#111" transform="matrix(1 0 0.0018 1 -0.8302 0)" stroke="#111" stroke-width="0.2">1.5</text>
<line x1="195.89999999999998" y1="448.2" x2="195.89999999999998" y2="451.0" stroke="#111" stroke-width="0.8"/>
<text x="195.9" y="461.2" font-size="7.6" text-anchor="middle" fill="#111" transform="matrix(1 0 0.0018 1 -0.8302 0)" stroke="#111" stroke-width="0.2">2</text>
<line x1="217.04999999999998" y1="448.2" x2="217.04999999999998" y2="451.0" stroke="#111" stroke-width="0.8"/>
<text x="217.05" y="461.2" font-size="7.6" text-anchor="middle" fill="#111" transform="matrix(1 0 0.0018 1 -0.8302 0)" stroke="#111" stroke-width="0.2">2.5</text>
<line x1="238.2" y1="448.2" x2="238.2" y2="451.0" stroke="#111" stroke-width="0.8"/>
<text x="238.2" y="461.2" font-size="7.6" text-anchor="middle" fill="#111" transform="matrix(1 0 0.0018 1 -0.8302 0)" stroke="#111" stroke-width="0.2">3</text>
<line x1="259.35" y1="448.2" x2="259.35" y2="451.0" stroke="#111" stroke-width="0.8"/>
<text x="259.35" y="461.2" font-size="7.6" text-anchor="middle" fill="#111" transform="matrix(1 0 0.0018 1 -0.8302 0)" stroke="#111" stroke-width="0.2">3.5</text>
<line x1="280.5" y1="448.2" x2="280.5" y2="451.0" stroke="#111" stroke-width="0.8"/>
<text x="280.5" y="461.2" font-size="7.6" text-anchor="middle" fill="#111" transform="matrix(1 0 0.0018 1 -0.8302 0)" stroke="#111" stroke-width="0.2">4</text>
<line x1="301.65" y1="448.2" x2="301.65" y2="451.0" stroke="#111" stroke-width="0.8"/>
<text x="301.65" y="461.2" font-size="7.6" text-anchor="middle" fill="#111" transform="matrix(1 0 0.0018 1 -0.8302 0)" stroke="#111" stroke-width="0.2">4.5</text>
<line x1="322.79999999999995" y1="448.2" x2="322.79999999999995" y2="451.0" stroke="#111" stroke-width="0.8"/>
<text x="322.8" y="461.2" font-size="7.6" text-anchor="middle" fill="#111" transform="matrix(1 0 0.0018 1 -0.8302 0)" stroke="#111" stroke-width="0.2">5</text>
<line x1="343.95" y1="448.2" x2="343.95" y2="451.0" stroke="#111" stroke-width="0.8"/>
<text x="343.95" y="461.2" font-size="7.6" text-anchor="middle" fill="#111" transform="matrix(1 0 0.0018 1 -0.8302 0)" stroke="#111" stroke-width="0.2">5.5</text>
<text x="15.5" y="392.4" font-size="8.2" text-anchor="start" fill="#111" textLength="10.1" lengthAdjust="spacingAndGlyphs" transform="matrix(1 0 0.0018 1 -0.7063 0)" stroke="#111" stroke-width="0.2">M1</text>
<line x1="154.023" y1="390.0" x2="263.157" y2="390.0" stroke="#222" stroke-width="1.0"/>
<line x1="154.023" y1="387.0" x2="154.023" y2="393.0" stroke="#222" stroke-width="1.0"/>
<line x1="263.157" y1="387.0" x2="263.157" y2="393.0" stroke="#222" stroke-width="1.0"/>
<rect x="189.67" y="388.00" width="4" height="4" fill="#a8002e"/>
<text x="364.6" y="392.4" font-size="8.1" text-anchor="middle" fill="#111" transform="matrix(1 0 0.0018 1 -0.7063 0)" stroke="#111" stroke-width="0.2">59</text>
<text x="440.2" y="392.4" font-size="8.1" text-anchor="end" fill="#111" transform="matrix(1 0 0.0018 1 -0.7063 0)" stroke="#111" stroke-width="0.2">1.9 [1.01-3.59]</text>
<text x="456.3" y="392.4" font-size="8.0" text-anchor="middle" fill="#111" transform="matrix(1 0 0.0018 1 -0.7063 0)" stroke="#111" stroke-width="0.2">0.04</text>
<text x="15.5" y="400.17" font-size="8.2" text-anchor="start" fill="#111" textLength="57.4" lengthAdjust="spacingAndGlyphs" transform="matrix(1 0 0.0018 1 -0.7203 0)" stroke="#111" stroke-width="0.2">M1 (+ FLT3-ITD)</text>
<line x1="153.6" y1="397.77" x2="263.58" y2="397.77" stroke="#222" stroke-width="1.0"/>
<line x1="153.6" y1="394.77" x2="153.6" y2="400.77" stroke="#222" stroke-width="1.0"/>
<line x1="263.58" y1="394.77" x2="263.58" y2="400.77" stroke="#222" stroke-width="1.0"/>
<rect x="189.25" y="395.77" width="4" height="4" fill="#a8002e"/>
<text x="364.6" y="400.17" font-size="8.1" text-anchor="middle" fill="#111" transform="matrix(1 0 0.0018 1 -0.7203 0)" stroke="#111" stroke-width="0.2">24</text>
<text x="440.2" y="400.17" font-size="8.1" text-anchor="end" fill="#111" transform="matrix(1 0 0.0018 1 -0.7203 0)" stroke="#111" stroke-width="0.2">1.89 [1-3.6]</text>
<text x="456.3" y="400.17" font-size="8.0" text-anchor="middle" fill="#111" transform="matrix(1 0 0.0018 1 -0.7203 0)" stroke="#111" stroke-width="0.2">0.05</text>
<text x="15.5" y="407.94" font-size="8.2" text-anchor="start" fill="#111" textLength="48.7" lengthAdjust="spacingAndGlyphs" transform="matrix(1 0 0.0018 1 -0.7343 0)" stroke="#111" stroke-width="0.2">M1 (+ NPM1)</text>
<line x1="130.75799999999998" y1="405.54" x2="294.88199999999995" y2="405.54" stroke="#222" stroke-width="1.0"/>
<line x1="130.75799999999998" y1="402.54" x2="130.75799999999998" y2="408.54" stroke="#222" stroke-width="1.0"/>
<line x1="294.88199999999995" y1="402.54" x2="294.88199999999995" y2="408.54" stroke="#222" stroke-width="1.0"/>
<rect x="168.94" y="403.54" width="4" height="4" fill="#a8002e"/>
<text x="364.6" y="407.94" font-size="8.1" text-anchor="middle" fill="#111" transform="matrix(1 0 0.0018 1 -0.7343 0)" stroke="#111" stroke-width="0.2">24</text>
<text x="440.2" y="407.94" font-size="8.1" text-anchor="end" fill="#111" transform="matrix(1 0 0.0018 1 -0.7343 0)" stroke="#111" stroke-width="0.2">1.41 [0.46-4.34]</text>
<text x="456.3" y="407.94" font-size="8.0" text-anchor="middle" fill="#111" transform="matrix(1 0 0.0018 1 -0.7343 0)" stroke="#111" stroke-width="0.2">0.55</text>
<text x="15.5" y="415.71" font-size="8.2" text-anchor="start" fill="#111" textLength="72.1" lengthAdjust="spacingAndGlyphs" transform="matrix(1 0 0.0018 1 -0.7483 0)" stroke="#111" stroke-width="0.2">M1 (+ BM blast [%])</text>
<line x1="161.214" y1="413.31" x2="310.95599999999996" y2="413.31" stroke="#222" stroke-width="1.0"/>
<line x1="161.214" y1="410.31" x2="161.214" y2="416.31" stroke="#222" stroke-width="1.0"/>
<line x1="310.95599999999996" y1="410.31" x2="310.95599999999996" y2="416.31" stroke="#222" stroke-width="1.0"/>
<rect x="209.13" y="411.31" width="4" height="4" fill="#a8002e"/>
<text x="364.6" y="415.71" font-size="8.1" text-anchor="middle" fill="#111" transform="matrix(1 0 0.0018 1 -0.7483 0)" stroke="#111" stroke-width="0.2">59</text>
<text x="440.2" y="415.71" font-size="8.1" text-anchor="end" fill="#111" transform="matrix(1 0 0.0018 1 -0.7483 0)" stroke="#111" stroke-width="0.2">2.36 [1.18-4.72]</text>
<text x="456.3" y="415.71" font-size="8.0" text-anchor="middle" fill="#111" transform="matrix(1 0 0.0018 1 -0.7483 0)" stroke="#111" stroke-width="0.2">0.02</text>
<text x="15.5" y="423.48" font-size="8.2" text-anchor="start" fill="#111" textLength="90.2" lengthAdjust="spacingAndGlyphs" transform="matrix(1 0 0.0018 1 -0.7623 0)" stroke="#111" stroke-width="0.2">M1 (+ PB leuk [10E9/ml])</text>
<line x1="166.713" y1="421.08" x2="334.221" y2="421.08" stroke="#222" stroke-width="1.0"/>
<line x1="166.713" y1="418.08" x2="166.713" y2="424.08" stroke="#222" stroke-width="1.0"/>
<line x1="334.221" y1="418.08" x2="334.221" y2="424.08" stroke="#222" stroke-width="1.0"/>
<rect x="220.55" y="419.08" width="4" height="4" fill="#a8002e"/>
<text x="364.6" y="423.48" font-size="8.1" text-anchor="middle" fill="#111" transform="matrix(1 0 0.0018 1 -0.7623 0)" stroke="#111" stroke-width="0.2">59</text>
<text x="440.2" y="423.48" font-size="8.1" text-anchor="end" fill="#111" transform="matrix(1 0 0.0018 1 -0.7623 0)" stroke="#111" stroke-width="0.2">2.63 [1.31-5.27]</text>
<text x="456.3" y="423.48" font-size="8.0" text-anchor="middle" fill="#111" transform="matrix(1 0 0.0018 1 -0.7623 0)" stroke="#111" stroke-width="0.2">0.01</text>
<text x="15.5" y="431.25" font-size="8.2" text-anchor="start" fill="#111" textLength="91.5" lengthAdjust="spacingAndGlyphs" transform="matrix(1 0 0.0018 1 -0.7762 0)" stroke="#111" stroke-width="0.2">M1 (+ Complex karyotype)</text>
<line x1="152.754" y1="428.85" x2="322.79999999999995" y2="428.85" stroke="#222" stroke-width="1.0"/>
<line x1="152.754" y1="425.85" x2="152.754" y2="431.85" stroke="#222" stroke-width="1.0"/>
<line x1="322.79999999999995" y1="425.85" x2="322.79999999999995" y2="431.85" stroke="#222" stroke-width="1.0"/>
<rect x="202.36" y="426.85" width="4" height="4" fill="#a8002e"/>
<text x="364.6" y="431.25" font-size="8.1" text-anchor="middle" fill="#111" transform="matrix(1 0 0.0018 1 -0.7762 0)" stroke="#111" stroke-width="0.2">41</text>
<text x="440.2" y="431.25" font-size="8.1" text-anchor="end" fill="#111" transform="matrix(1 0 0.0018 1 -0.7762 0)" stroke="#111" stroke-width="0.2">2.2 [0.98-5]</text>
<text x="456.3" y="431.25" font-size="8.0" text-anchor="middle" fill="#111" transform="matrix(1 0 0.0018 1 -0.7762 0)" stroke="#111" stroke-width="0.2">0.06</text>
<text x="15.5" y="439.02" font-size="8.2" text-anchor="start" fill="#111" textLength="39.7" lengthAdjust="spacingAndGlyphs" transform="matrix(1 0 0.0018 1 -0.7902 0)" stroke="#111" stroke-width="0.2">M1 (+ Age)</text>
<line x1="156.984" y1="436.62" x2="275.847" y2="436.62" stroke="#222" stroke-width="1.0"/>
<line x1="156.984" y1="433.62" x2="156.984" y2="439.62" stroke="#222" stroke-width="1.0"/>
<line x1="275.847" y1="433.62" x2="275.847" y2="439.62" stroke="#222" stroke-width="1.0"/>
<rect x="196.01" y="434.62" width="4" height="4" fill="#a8002e"/>
<text x="364.6" y="439.02" font-size="8.1" text-anchor="middle" fill="#111" transform="matrix(1 0 0.0018 1 -0.7902 0)" stroke="#111" stroke-width="0.2">59</text>
<text x="440.2" y="439.02" font-size="8.1" text-anchor="end" fill="#111" transform="matrix(1 0 0.0018 1 -0.7902 0)" stroke="#111" stroke-width="0.2">2.05 [1.08-3.89]</text>
<text x="456.3" y="439.02" font-size="8.0" text-anchor="middle" fill="#111" transform="matrix(1 0 0.0018 1 -0.7902 0)" stroke="#111" stroke-width="0.2">0.03</text>
<text x="15.5" y="446.79" font-size="8.2" text-anchor="start" fill="#111" textLength="110.1" lengthAdjust="spacingAndGlyphs" transform="matrix(1 0 0.0018 1 -0.8042 0)" stroke="#111" stroke-width="0.2">M1 (+ Risk classification [ELN])</text>
<line x1="147.678" y1="444.39" x2="302.073" y2="444.39" stroke="#222" stroke-width="1.0"/>
<line x1="147.678" y1="441.39" x2="147.678" y2="447.39" stroke="#222" stroke-width="1.0"/>
<line x1="302.073" y1="441.39" x2="302.073" y2="447.39" stroke="#222" stroke-width="1.0"/>
<rect x="192.21" y="442.39" width="4" height="4" fill="#a8002e"/>
<text x="364.6" y="446.79" font-size="8.1" text-anchor="middle" fill="#111" transform="matrix(1 0 0.0018 1 -0.8042 0)" stroke="#111" stroke-width="0.2">43</text>
<text x="440.2" y="446.79" font-size="8.1" text-anchor="end" fill="#111" transform="matrix(1 0 0.0018 1 -0.8042 0)" stroke="#111" stroke-width="0.2">1.96 [0.86-4.51]</text>
<text x="456.3" y="446.79" font-size="8.0" text-anchor="middle" fill="#111" transform="matrix(1 0 0.0018 1 -0.8042 0)" stroke="#111" stroke-width="0.2">0.11</text>
<text x="7.8" y="488.8" font-size="11.2" text-anchor="start" fill="#000" font-weight="bold" transform="matrix(1 0 0.0018 1 -0.8798 0)">E</text>
<text x="15.5" y="509.1" font-size="7.9" text-anchor="start" fill="#111" textLength="34.5" lengthAdjust="spacingAndGlyphs" transform="matrix(1 0 0.0018 1 -0.9164 0)" stroke="#111" stroke-width="0.2">Subgroup</text>
<text x="240.7" y="497.1" font-size="9.3" text-anchor="middle" fill="#111" textLength="53" lengthAdjust="spacingAndGlyphs" transform="matrix(1 0 0.0018 1 -0.8948 0)" stroke="#111" stroke-width="0.2">Hazard Ratio</text>
<text x="365.6" y="509.5" font-size="8.1" text-anchor="middle" fill="#111" textLength="28.2" lengthAdjust="spacingAndGlyphs" transform="matrix(1 0 0.0018 1 -0.9171 0)" stroke="#111" stroke-width="0.2">Patients</text>
<text x="411.8" y="509.7" font-size="7.8" text-anchor="middle" fill="#111" textLength="36.0" lengthAdjust="spacingAndGlyphs" transform="matrix(1 0 0.0018 1 -0.9175 0)" stroke="#111" stroke-width="0.2">HR [CI95]</text>
<text x="456.5" y="509.7" font-size="7.8" text-anchor="middle" fill="#111" textLength="25.0" lengthAdjust="spacingAndGlyphs" transform="matrix(1 0 0.0018 1 -0.9175 0)" stroke="#111" stroke-width="0.2">P Value</text>
<line x1="173.7" y1="515.0" x2="173.7" y2="579.5" stroke="#111" stroke-width="1"/>
<line x1="132.5" y1="576.7" x2="348.2" y2="576.7" stroke="#111" stroke-width="1.1"/>
<line x1="135.5" y1="576.7" x2="135.5" y2="579.5" stroke="#111" stroke-width="0.8"/>
<text x="135.5" y="589.7" font-size="7.6" text-anchor="middle" fill="#111" transform="matrix(1 0 0.0018 1 -1.0615 0)" stroke="#111" stroke-width="0.2">0</text>
<line x1="154.6" y1="576.7" x2="154.6" y2="579.5" stroke="#111" stroke-width="0.8"/>
<text x="154.6" y="589.7" font-size="7.6" text-anchor="middle" fill="#111" transform="matrix(1 0 0.0018 1 -1.0615 0)" stroke="#111" stroke-width="0.2">0.5</text>
<line x1="173.7" y1="576.7" x2="173.7" y2="579.5" stroke="#111" stroke-width="0.8"/>
<text x="173.7" y="589.7" font-size="7.6" text-anchor="middle" fill="#111" transform="matrix(1 0 0.0018 1 -1.0615 0)" stroke="#111" stroke-width="0.2">1</text>
<line x1="192.8" y1="576.7" x2="192.8" y2="579.5" stroke="#111" stroke-width="0.8"/>
<text x="192.8" y="589.7" font-size="7.6" text-anchor="middle" fill="#111" transform="matrix(1 0 0.0018 1 -1.0615 0)" stroke="#111" stroke-width="0.2">1.5</text>
<line x1="211.9" y1="576.7" x2="211.9" y2="579.5" stroke="#111" stroke-width="0.8"/>
<text x="211.9" y="589.7" font-size="7.6" text-anchor="middle" fill="#111" transform="matrix(1 0 0.0018 1 -1.0615 0)" stroke="#111" stroke-width="0.2">2</text>
<line x1="231.0" y1="576.7" x2="231.0" y2="579.5" stroke="#111" stroke-width="0.8"/>
<text x="231.0" y="589.7" font-size="7.6" text-anchor="middle" fill="#111" transform="matrix(1 0 0.0018 1 -1.0615 0)" stroke="#111" stroke-width="0.2">2.5</text>
<line x1="250.10000000000002" y1="576.7" x2="250.10000000000002" y2="579.5" stroke="#111" stroke-width="0.8"/>
<text x="250.1" y="589.7" font-size="7.6" text-anchor="middle" fill="#111" transform="matrix(1 0 0.0018 1 -1.0615 0)" stroke="#111" stroke-width="0.2">3</text>
<line x1="269.20000000000005" y1="576.7" x2="269.20000000000005" y2="579.5" stroke="#111" stroke-width="0.8"/>
<text x="269.2" y="589.7" font-size="7.6" text-anchor="middle" fill="#111" transform="matrix(1 0 0.0018 1 -1.0615 0)" stroke="#111" stroke-width="0.2">3.5</text>
<line x1="288.3" y1="576.7" x2="288.3" y2="579.5" stroke="#111" stroke-width="0.8"/>
<text x="288.3" y="589.7" font-size="7.6" text-anchor="middle" fill="#111" transform="matrix(1 0 0.0018 1 -1.0615 0)" stroke="#111" stroke-width="0.2">4</text>
<line x1="307.4" y1="576.7" x2="307.4" y2="579.5" stroke="#111" stroke-width="0.8"/>
<text x="307.4" y="589.7" font-size="7.6" text-anchor="middle" fill="#111" transform="matrix(1 0 0.0018 1 -1.0615 0)" stroke="#111" stroke-width="0.2">4.5</text>
<line x1="326.5" y1="576.7" x2="326.5" y2="579.5" stroke="#111" stroke-width="0.8"/>
<text x="326.5" y="589.7" font-size="7.6" text-anchor="middle" fill="#111" transform="matrix(1 0 0.0018 1 -1.0615 0)" stroke="#111" stroke-width="0.2">5</text>
<line x1="345.6" y1="576.7" x2="345.6" y2="579.5" stroke="#111" stroke-width="0.8"/>
<text x="345.6" y="589.7" font-size="7.6" text-anchor="middle" fill="#111" transform="matrix(1 0 0.0018 1 -1.0615 0)" stroke="#111" stroke-width="0.2">5.5</text>
<text x="15.5" y="520.9" font-size="8.2" text-anchor="start" fill="#111" textLength="14.7" lengthAdjust="spacingAndGlyphs" transform="matrix(1 0 0.0018 1 -0.9376 0)" stroke="#111" stroke-width="0.2">Treg</text>
<line x1="183.25" y1="518.5" x2="303.58000000000004" y2="518.5" stroke="#222" stroke-width="1.0"/>
<line x1="183.25" y1="515.5" x2="183.25" y2="521.5" stroke="#222" stroke-width="1.0"/>
<line x1="303.58000000000004" y1="515.5" x2="303.58000000000004" y2="521.5" stroke="#222" stroke-width="1.0"/>
<rect x="223.27" y="516.50" width="4" height="4" fill="#a8002e"/>
<text x="365.6" y="520.9" font-size="8.1" text-anchor="middle" fill="#111" transform="matrix(1 0 0.0018 1 -0.9376 0)" stroke="#111" stroke-width="0.2">59</text>
<text x="440.2" y="520.9" font-size="8.1" text-anchor="end" fill="#111" transform="matrix(1 0 0.0018 1 -0.9376 0)" stroke="#111" stroke-width="0.2">2.35 [1.25-4.4]</text>
<text x="456.3" y="520.9" font-size="8.0" text-anchor="middle" fill="#111" transform="matrix(1 0 0.0018 1 -0.9376 0)" stroke="#111" stroke-width="0.2">0.01</text>
<text x="15.5" y="528.67" font-size="8.2" text-anchor="start" fill="#111" textLength="61" lengthAdjust="spacingAndGlyphs" transform="matrix(1 0 0.0018 1 -0.9516 0)" stroke="#111" stroke-width="0.2">Treg (+ FLT3-ITD)</text>
<line x1="182.868" y1="526.27" x2="303.58000000000004" y2="526.27" stroke="#222" stroke-width="1.0"/>
<line x1="182.868" y1="523.27" x2="182.868" y2="529.27" stroke="#222" stroke-width="1.0"/>
<line x1="303.58000000000004" y1="523.27" x2="303.58000000000004" y2="529.27" stroke="#222" stroke-width="1.0"/>
<rect x="222.89" y="524.27" width="4" height="4" fill="#a8002e"/>
<text x="365.6" y="528.67" font-size="8.1" text-anchor="middle" fill="#111" transform="matrix(1 0 0.0018 1 -0.9516 0)" stroke="#111" stroke-width="0.2">24</text>
<text x="440.2" y="528.67" font-size="8.1" text-anchor="end" fill="#111" transform="matrix(1 0 0.0018 1 -0.9516 0)" stroke="#111" stroke-width="0.2">2.34 [1.24-4.4]</text>
<text x="456.3" y="528.67" font-size="8.0" text-anchor="middle" fill="#111" transform="matrix(1 0 0.0018 1 -0.9516 0)" stroke="#111" stroke-width="0.2">0.01</text>
<text x="15.5" y="536.44" font-size="8.2" text-anchor="start" fill="#111" textLength="52" lengthAdjust="spacingAndGlyphs" transform="matrix(1 0 0.0018 1 -0.9656 0)" stroke="#111" stroke-width="0.2">Treg (+ NPM1)</text>
<line x1="162.24" y1="534.04" x2="338.72400000000005" y2="534.04" stroke="#222" stroke-width="1.0"/>
<line x1="162.24" y1="531.04" x2="162.24" y2="537.04" stroke="#222" stroke-width="1.0"/>
<line x1="338.72400000000005" y1="531.04" x2="338.72400000000005" y2="537.04" stroke="#222" stroke-width="1.0"/>
<rect x="207.23" y="532.04" width="4" height="4" fill="#a8002e"/>
<text x="365.6" y="536.44" font-size="8.1" text-anchor="middle" fill="#111" transform="matrix(1 0 0.0018 1 -0.9656 0)" stroke="#111" stroke-width="0.2">24</text>
<text x="440.2" y="536.44" font-size="8.1" text-anchor="end" fill="#111" transform="matrix(1 0 0.0018 1 -0.9656 0)" stroke="#111" stroke-width="0.2">1.93 [0.7-5.32]</text>
<text x="456.3" y="536.44" font-size="8.0" text-anchor="middle" fill="#111" transform="matrix(1 0 0.0018 1 -0.9656 0)" stroke="#111" stroke-width="0.2">0.2</text>
<text x="15.5" y="544.21" font-size="8.2" text-anchor="start" fill="#111" textLength="75.6" lengthAdjust="spacingAndGlyphs" transform="matrix(1 0 0.0018 1 -0.9796 0)" stroke="#111" stroke-width="0.2">Treg (+ BM blast [%])</text>
<line x1="182.868" y1="541.81" x2="302.81600000000003" y2="541.81" stroke="#222" stroke-width="1.0"/>
<line x1="182.868" y1="538.81" x2="182.868" y2="544.81" stroke="#222" stroke-width="1.0"/>
<line x1="302.81600000000003" y1="538.81" x2="302.81600000000003" y2="544.81" stroke="#222" stroke-width="1.0"/>
<rect x="222.51" y="539.81" width="4" height="4" fill="#a8002e"/>
<text x="365.6" y="544.21" font-size="8.1" text-anchor="middle" fill="#111" transform="matrix(1 0 0.0018 1 -0.9796 0)" stroke="#111" stroke-width="0.2">59</text>
<text x="440.2" y="544.21" font-size="8.1" text-anchor="end" fill="#111" transform="matrix(1 0 0.0018 1 -0.9796 0)" stroke="#111" stroke-width="0.2">2.33 [1.24-4.38]</text>
<text x="456.3" y="544.21" font-size="8.0" text-anchor="middle" fill="#111" transform="matrix(1 0 0.0018 1 -0.9796 0)" stroke="#111" stroke-width="0.2">0.01</text>
<text x="15.5" y="551.98" font-size="8.2" text-anchor="start" fill="#111" textLength="94.4" lengthAdjust="spacingAndGlyphs" transform="matrix(1 0 0.0018 1 -0.9936 0)" stroke="#111" stroke-width="0.2">Treg (+ PB leuk [10E9/ml])</text>
<line x1="182.10399999999998" y1="549.58" x2="302.434" y2="549.58" stroke="#222" stroke-width="1.0"/>
<line x1="182.10399999999998" y1="546.58" x2="182.10399999999998" y2="552.58" stroke="#222" stroke-width="1.0"/>
<line x1="302.434" y1="546.58" x2="302.434" y2="552.58" stroke="#222" stroke-width="1.0"/>
<rect x="221.74" y="547.58" width="4" height="4" fill="#a8002e"/>
<text x="365.6" y="551.98" font-size="8.1" text-anchor="middle" fill="#111" transform="matrix(1 0 0.0018 1 -0.9936 0)" stroke="#111" stroke-width="0.2">59</text>
<text x="440.2" y="551.98" font-size="8.1" text-anchor="end" fill="#111" transform="matrix(1 0 0.0018 1 -0.9936 0)" stroke="#111" stroke-width="0.2">2.31 [1.22-4.37]</text>
<text x="456.3" y="551.98" font-size="8.0" text-anchor="middle" fill="#111" transform="matrix(1 0 0.0018 1 -0.9936 0)" stroke="#111" stroke-width="0.2">0.01</text>
<text x="15.5" y="559.75" font-size="8.2" text-anchor="start" fill="#111" textLength="95.3" lengthAdjust="spacingAndGlyphs" transform="matrix(1 0 0.0018 1 -1.0075 0)" stroke="#111" stroke-width="0.2">Treg (+ Complex karyotype)</text>
<line x1="176.374" y1="557.35" x2="345.6" y2="557.35" stroke="#222" stroke-width="1.0"/>
<line x1="176.374" y1="554.35" x2="176.374" y2="560.35" stroke="#222" stroke-width="1.0"/>
<line x1="345.6" y1="554.35" x2="345.6" y2="560.35" stroke="#222" stroke-width="1.0"/>
<rect x="226.33" y="555.35" width="4" height="4" fill="#a8002e"/>
<text x="365.6" y="559.75" font-size="8.1" text-anchor="middle" fill="#111" transform="matrix(1 0 0.0018 1 -1.0075 0)" stroke="#111" stroke-width="0.2">41</text>
<text x="440.2" y="559.75" font-size="8.1" text-anchor="end" fill="#111" transform="matrix(1 0 0.0018 1 -1.0075 0)" stroke="#111" stroke-width="0.2">2.43 [1.07-5.5]</text>
<text x="456.3" y="559.75" font-size="8.0" text-anchor="middle" fill="#111" transform="matrix(1 0 0.0018 1 -1.0075 0)" stroke="#111" stroke-width="0.2">0.03</text>
<text x="15.5" y="567.52" font-size="8.2" text-anchor="start" fill="#111" textLength="41.4" lengthAdjust="spacingAndGlyphs" transform="matrix(1 0 0.0018 1 -1.0215 0)" stroke="#111" stroke-width="0.2">Treg (+ Age)</text>
<line x1="180.958" y1="565.12" x2="296.704" y2="565.12" stroke="#222" stroke-width="1.0"/>
<line x1="180.958" y1="562.12" x2="180.958" y2="568.12" stroke="#222" stroke-width="1.0"/>
<line x1="296.704" y1="562.12" x2="296.704" y2="568.12" stroke="#222" stroke-width="1.0"/>
<rect x="219.07" y="563.12" width="4" height="4" fill="#a8002e"/>
<text x="365.6" y="567.52" font-size="8.1" text-anchor="middle" fill="#111" transform="matrix(1 0 0.0018 1 -1.0215 0)" stroke="#111" stroke-width="0.2">59</text>
<text x="440.2" y="567.52" font-size="8.1" text-anchor="end" fill="#111" transform="matrix(1 0 0.0018 1 -1.0215 0)" stroke="#111" stroke-width="0.2">2.24 [1.19-4.22]</text>
<text x="456.3" y="567.52" font-size="8.0" text-anchor="middle" fill="#111" transform="matrix(1 0 0.0018 1 -1.0215 0)" stroke="#111" stroke-width="0.2">0.01</text>
<text x="15.5" y="575.29" font-size="8.2" text-anchor="start" fill="#111" textLength="114" lengthAdjust="spacingAndGlyphs" transform="matrix(1 0 0.0018 1 -1.0355 0)" stroke="#111" stroke-width="0.2">Treg (+ Risk classification [ELN])</text>
<line x1="139.32" y1="572.89" x2="321.15200000000004" y2="572.89" stroke="#222" stroke-width="1.0"/>
<line x1="139.32" y1="569.89" x2="139.32" y2="575.89" stroke="#222" stroke-width="1.0"/>
<line x1="321.15200000000004" y1="569.89" x2="321.15200000000004" y2="575.89" stroke="#222" stroke-width="1.0"/>
<rect x="216.39" y="570.89" width="4" height="4" fill="#a8002e"/>
<text x="365.6" y="575.29" font-size="8.1" text-anchor="middle" fill="#111" transform="matrix(1 0 0.0018 1 -1.0355 0)" stroke="#111" stroke-width="0.2">43</text>
<text x="440.2" y="575.29" font-size="8.1" text-anchor="end" fill="#111" transform="matrix(1 0 0.0018 1 -1.0355 0)" stroke="#111" stroke-width="0.2">2.17 [0.1-4.86]</text>
<text x="456.3" y="575.29" font-size="8.0" text-anchor="middle" fill="#111" transform="matrix(1 0 0.0018 1 -1.0355 0)" stroke="#111" stroke-width="0.2">0.06</text>
<rect x="0.5" y="0.5" width="519" height="598" fill="none" stroke="#000" stroke-width="1"/>
</svg>
</body></html>
